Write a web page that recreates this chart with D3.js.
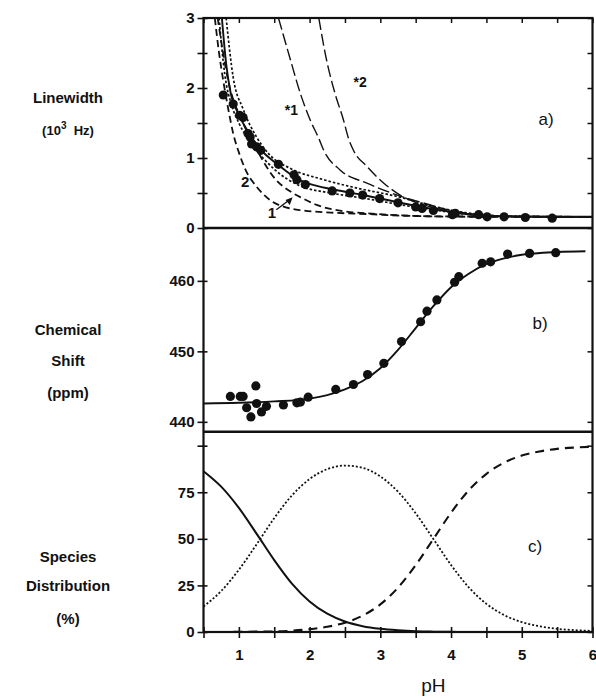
<!DOCTYPE html>
<html>
<head>
<meta charset="utf-8">
<script src="https://cdn.jsdelivr.net/npm/d3@7"></script>
<style>
  body { margin: 0; background: #fff; }
  svg { display: block; }
  text { font-family: "Liberation Sans", Arial, sans-serif; fill: #111; font-weight: bold; }
</style>
</head>
<body>
<svg id="chart" width="596" height="698"></svg>
<script>
// ---- panel a: linewidth (10^3 Hz) ----
const lwPH  = [0.78, 0.92, 1.01, 1.06, 1.13, 1.16, 1.18, 1.25, 1.31, 1.56, 1.78, 1.82, 1.94, 2.32, 2.57, 2.75, 2.99, 3.25, 3.5, 3.59, 3.75, 4.02, 4.06, 4.39, 4.51, 4.75, 5.05, 5.43];
const lwVal = [1.90, 1.77, 1.61, 1.58, 1.35, 1.30, 1.20, 1.16, 1.11, 0.91, 0.76, 0.69, 0.62, 0.53, 0.50, 0.47, 0.42, 0.36, 0.30, 0.28, 0.25, 0.19, 0.21, 0.19, 0.16, 0.16, 0.15, 0.14];

const lwFit   = [[0.76,3.0],[0.82,2.35],[0.88,1.95],[1.0,1.62],[1.16,1.33],[1.3,1.13],[1.56,0.9],[1.87,0.68],[2.0,0.63],[2.34,0.55],[2.81,0.46],[3.28,0.36],[3.75,0.27],[4.0,0.23],[4.4,0.18],[4.75,0.165],[5.5,0.16],[6.0,0.16]];
const lwUpper = [[0.82,3.0],[0.92,2.15],[1.06,1.7],[1.25,1.3],[1.44,1.04],[1.73,0.85],[2.2,0.69],[2.67,0.57],[3.24,0.45],[3.75,0.31],[4.2,0.22],[4.75,0.17],[5.5,0.16],[6.0,0.16]];
const lwLower = [[0.72,3.0],[0.8,2.2],[0.9,1.75],[1.0,1.5],[1.2,1.18],[1.5,0.84],[1.87,0.6],[2.3,0.5],[2.8,0.42],[3.3,0.33],[3.75,0.26],[4.2,0.2],[5.0,0.165],[6.0,0.16]];
const lwCurve1 = [[0.7,3.0],[0.85,2.1],[1.06,1.5],[1.28,1.07],[1.49,0.73],[1.73,0.52],[1.91,0.42],[2.1,0.33],[2.48,0.24],[2.81,0.21],[3.3,0.18],[4.0,0.165],[6.0,0.16]];
const lwCurve2 = [[0.66,3.0],[0.72,2.5],[0.78,2.1],[0.85,1.7],[0.92,1.35],[1.0,1.08],[1.1,0.82],[1.25,0.59],[1.44,0.40],[1.68,0.29],[1.91,0.25],[2.3,0.22],[2.8,0.2],[3.5,0.17],[4.5,0.16],[6.0,0.16]];
const lwStar1 = [[1.56,3.0],[1.73,2.4],[1.87,1.92],[2.01,1.54],[2.13,1.28],[2.2,1.11],[2.43,0.83],[2.81,0.64],[3.24,0.47],[3.6,0.36],[4.0,0.25],[4.5,0.18],[5.0,0.165],[6.0,0.16]];
const lwStar2 = [[2.13,3.0],[2.24,2.4],[2.36,1.92],[2.48,1.54],[2.55,1.28],[2.62,1.11],[2.81,0.88],[3.05,0.64],[3.28,0.47],[3.52,0.36],[3.8,0.28],[4.1,0.22],[4.5,0.18],[5.0,0.165],[6.0,0.16]];

// ---- panel b: chemical shift (ppm) ----
const csPH  = [0.88, 1.02, 1.06, 1.11, 1.17, 1.24, 1.25, 1.32, 1.39, 1.63, 1.82, 1.87, 1.98, 2.37, 2.62, 2.82, 3.05, 3.30, 3.57, 3.66, 3.80, 4.05, 4.11, 4.44, 4.56, 4.80, 5.11, 5.48];
const csVal = [443.6, 443.6, 443.6, 442.0, 440.7, 445.1, 442.6, 441.4, 442.2, 442.4, 442.7, 442.8, 443.5, 444.6, 445.3, 446.7, 448.3, 451.4, 454.2, 455.7, 457.3, 459.8, 460.6, 462.5, 462.7, 463.8, 463.9, 464.0];
const csFitPH  = [0.5, 1.0, 1.5, 2.0, 2.25, 2.5, 2.75, 3.0, 3.25, 3.5, 3.75, 4.0, 4.25, 4.5, 4.75, 5.0, 5.5, 5.9];
const csFitVal = [442.6, 442.7, 442.9, 443.3, 443.8, 444.6, 445.8, 447.6, 450.2, 453.3, 456.4, 459.1, 461.0, 462.4, 463.2, 463.7, 464.1, 464.2];

// ---- panel c: species distribution (%) ----
const spPH  = [0.5, 0.75, 1.0, 1.25, 1.5, 1.75, 2.0, 2.25, 2.5, 2.75, 3.0, 3.25, 3.5, 3.75, 4.0, 4.25, 4.5, 4.75, 5.0, 5.25, 5.5, 5.75, 6.0];
const spSolid  = [86.3, 78.0, 66.6, 52.8, 38.6, 26.0, 16.4, 9.8, 5.6, 3.1, 1.7, 0.9, 0.4, 0.2, 0.1, 0, 0, 0, 0, 0, 0, 0, 0];
const spDotted = [13.7, 22.0, 33.4, 47.0, 61.1, 73.3, 82.1, 87.4, 89.3, 88.1, 83.5, 75.3, 63.7, 49.9, 36.0, 24.0, 15.1, 9.1, 5.3, 3.1, 1.7, 1.0, 0.6];
const spDashed = [0, 0, 0.1, 0.2, 0.3, 0.7, 1.5, 2.8, 5.0, 8.8, 14.8, 23.8, 35.9, 49.9, 64.0, 76.0, 84.9, 90.9, 94.7, 96.9, 98.3, 99.0, 99.4];

const pHTicks = [0.5, 1, 1.5, 2, 2.5, 3, 3.5, 4, 4.5, 5, 5.5, 6];

const svg = d3.select('#chart');
const L = 203.5, R = 592.5;
const T = 18, AB = 228, BC = 431.7, B = 632;

const x  = d3.scaleLinear().domain([0.5, 6]).range([L, R]);
const yA = d3.scaleLinear().domain([0, 3]).range([AB, T]);
const yB = d3.scaleLinear().domain([438.6, 467.5]).range([BC, AB]);
const yC = d3.scaleLinear().domain([0, 107.5]).range([B, BC]);

svg.append('defs').append('clipPath').attr('id', 'clipA')
  .append('rect').attr('x', L).attr('y', T).attr('width', R - L).attr('height', AB - T);

function leftAxis(scale, ticks, labels) {
  const g = svg.append('g')
    .attr('transform', `translate(${L},0)`)
    .call(d3.axisLeft(scale).tickValues(ticks).tickSize(6).tickPadding(3)
      .tickFormat(d => labels.includes(d) ? d : ''));
  g.select('.domain').remove();
  g.selectAll('.tick line').attr('x1', 4).attr('stroke', '#111').attr('stroke-width', 1.6);
  g.selectAll('.tick text').style('font-size', '15px').attr('fill', '#111');
  const r = svg.append('g')
    .attr('transform', `translate(${R},0)`)
    .call(d3.axisLeft(scale).tickValues(ticks).tickSize(5).tickFormat(''));
  r.select('.domain').remove();
  r.selectAll('.tick line').attr('stroke', '#111').attr('stroke-width', 1.5);
}

leftAxis(yA, [0, 0.5, 1, 1.5, 2, 2.5, 3], [0, 1, 2, 3]);
leftAxis(yB, [440, 450, 460], [440, 450, 460]);
leftAxis(yC, [0, 25, 50, 75, 100], [0, 25, 50, 75]);

// top ticks
const topAx = svg.append('g').attr('transform', `translate(0,${T})`)
  .call(d3.axisBottom(x).tickValues(pHTicks).tickSize(5).tickFormat(''));
topAx.select('.domain').remove();
topAx.selectAll('.tick line').attr('stroke', '#111').attr('stroke-width', 1.5);

// bottom pH axis
const botAx = svg.append('g').attr('transform', `translate(0,${B})`)
  .call(d3.axisBottom(x).tickValues(pHTicks).tickSize(6).tickPadding(11)
    .tickFormat(d => Number.isInteger(d) ? d : ''));
botAx.select('.domain').remove();
botAx.selectAll('.tick line').attr('y1', -5).attr('stroke', '#111').attr('stroke-width', 1.6);
botAx.selectAll('.tick text').style('font-size', '15px').attr('fill', '#111');

// frame + panel separators
svg.append('rect').attr('x', L).attr('y', T).attr('width', R - L).attr('height', B - T)
  .attr('fill', 'none').attr('stroke', '#111').attr('stroke-width', 2.2);
[AB, BC].forEach(yy => {
  svg.append('line').attr('x1', L).attr('x2', R).attr('y1', yy).attr('y2', yy)
    .attr('stroke', '#111').attr('stroke-width', 2.4);
});

// ---- panel a ----
const lineA = d3.line().x(d => x(d[0])).y(d => yA(d[1])).curve(d3.curveMonotoneX);
const pa = svg.append('g').attr('clip-path', 'url(#clipA)');
const aSeries = [
  { d: lwStar1, dash: '12,4', w: 1.4 },
  { d: lwStar2, dash: '12,4', w: 1.4 },
  { d: lwCurve2, dash: '7,4', w: 1.8 },
  { d: lwCurve1, dash: '7,4', w: 1.8 },
  { d: lwLower, dash: '2.5,2', w: 1.7 },
  { d: lwUpper, dash: '2.5,2', w: 1.7 },
  { d: lwFit, dash: null, w: 1.9 }
];
aSeries.forEach(s => {
  pa.append('path').attr('d', lineA(s.d)).attr('fill', 'none')
    .attr('stroke', '#111').attr('stroke-width', s.w)
    .attr('stroke-dasharray', s.dash);
});
pa.selectAll('circle.lw').data(lwPH).join('circle')
  .attr('cx', d => x(d)).attr('cy', (d, i) => yA(lwVal[i])).attr('r', 4.6).attr('fill', '#111');

svg.append('text').attr('x', x(1.65)).attr('y', yA(1.62)).text('*1')
  .style('font-size', '14px');
svg.append('text').attr('x', x(2.62)).attr('y', yA(2.02)).text('*2')
  .style('font-size', '14px');
svg.append('text').attr('x', x(1.03)).attr('y', yA(0.58)).text('2')
  .style('font-size', '15px');
svg.append('text').attr('x', x(1.41)).attr('y', yA(0.15)).text('1')
  .style('font-size', '15px');
svg.append('line')
  .attr('x1', x(1.53)).attr('y1', yA(0.26)).attr('x2', x(1.74)).attr('y2', yA(0.42))
  .attr('stroke', '#111').attr('stroke-width', 1.3);
svg.append('path')
  .attr('d', d3.line()([[x(1.76), yA(0.44)], [x(1.66), yA(0.40)], [x(1.72), yA(0.33)]]) + 'Z')
  .attr('fill', '#111');

// ---- panel b ----
const lineB = d3.line().x(d => x(d[0])).y(d => yB(d[1])).curve(d3.curveMonotoneX);
svg.append('path').attr('d', lineB(csFitPH.map((p, i) => [p, csFitVal[i]])))
  .attr('fill', 'none').attr('stroke', '#111').attr('stroke-width', 1.9);
svg.selectAll('circle.cs').data(csPH).join('circle')
  .attr('cx', d => x(d)).attr('cy', (d, i) => yB(csVal[i])).attr('r', 4.6).attr('fill', '#111');

// ---- panel c ----
const lineC = d3.line().x(d => x(d[0])).y(d => yC(d[1])).curve(d3.curveMonotoneX);
[
  { v: spSolid, dash: null, w: 2 },
  { v: spDotted, dash: '2,2', w: 1.8 },
  { v: spDashed, dash: '9,6', w: 2.1 }
].forEach(s => {
  svg.append('path').attr('d', lineC(spPH.map((p, i) => [p, s.v[i]])))
    .attr('fill', 'none').attr('stroke', '#111').attr('stroke-width', s.w)
    .attr('stroke-dasharray', s.dash);
});

// panel tags
[['a)', 546, 125], ['b)', 540, 329], ['c)', 535, 552]].forEach(t => {
  svg.append('text').attr('x', t[1]).attr('y', t[2]).attr('text-anchor', 'middle')
    .style('font-size', '17px').style('font-weight', 'normal').text(t[0]);
});

// left titles
const titles = [
  ['Linewidth', 103], ['Chemical', 335], ['Shift', 366], ['(ppm)', 398],
  ['Species', 562], ['Distribution', 591], ['(%)', 624]
];
titles.forEach(t => {
  svg.append('text').attr('x', 68).attr('y', t[1]).attr('text-anchor', 'middle')
    .style('font-size', '15px').text(t[0]);
});
const hz = svg.append('text').attr('x', 68).attr('y', 135).attr('text-anchor', 'middle')
  .style('font-size', '13px');
hz.append('tspan').text('(10');
hz.append('tspan').attr('dy', -6).style('font-size', '10px').text('3');
hz.append('tspan').attr('dy', 6).text('\u00a0 Hz)');

svg.append('text').attr('x', x(3.75)).attr('y', 692).attr('text-anchor', 'middle')
  .style('font-size', '19px').style('font-weight', 'normal').text('pH');
</script>
</body>
</html>
